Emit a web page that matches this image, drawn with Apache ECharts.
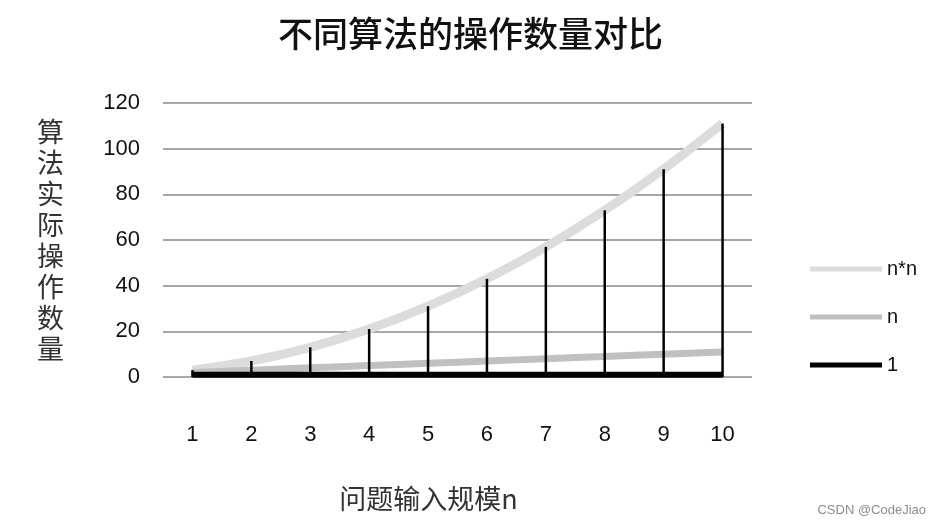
<!DOCTYPE html>
<html>
<head>
<meta charset="utf-8">
<script src="https://cdn.jsdelivr.net/npm/echarts@6/dist/echarts.min.js"></script>
<style>
  html, body { margin: 0; padding: 0; background: #fff; }
  #chart { width: 941px; height: 523px; }
</style>
</head>
<body>
<div id="chart"></div>
<script>
// problem size n on the x axis
const sizes = ['1', '2', '3', '4', '5', '6', '7', '8', '9', '10'];
// operations per algorithm (stacked in the picture, like excel does it)
const constOps = [1, 1, 1, 1, 1, 1, 1, 1, 1, 1];
const linearOps = [1, 2, 3, 4, 5, 6, 7, 8, 9, 10];
const squareOps = [1, 4, 9, 16, 25, 36, 49, 64, 81, 100];
const yTicks = [0, 20, 40, 60, 80, 100, 120];

// drop lines go from 0 up to the top of the stack
let dropTops = [];
for (let i = 0; i < sizes.length; i++) {
    dropTops.push(constOps[i] + linearOps[i] + squareOps[i]);
}

const FONT = 'Liberation Sans, Noto Sans CJK SC, sans-serif';

let chart = echarts.init(document.getElementById('chart'));
chart.setOption({
    animation: false,
    title: [
        {
            text: '不同算法的操作数量对比',
            left: 'center',
            top: 11,
            textStyle: { fontFamily: 'Noto Sans CJK SC', fontSize: 35, fontWeight: 500, color: '#111' }
        },
        {
            text: 'CSDN @CodeJiao',
            right: 10,
            top: 499,
            textStyle: { fontFamily: FONT, fontSize: 13, fontWeight: 'normal', color: '#8c8c8c' }
        }
    ],
    legend: {
        data: ['n*n', 'n', '1'],
        orient: 'vertical',
        left: 805,
        top: 254,
        icon: 'rect',
        itemWidth: 72,
        itemHeight: 5,
        itemGap: 28,
        textStyle: { fontFamily: FONT, fontSize: 20, color: '#111' }
    },
    grid: { left: 163, right: 189, top: 103, bottom: 146 },
    xAxis: {
        type: 'category',
        data: sizes,
        axisLine: { show: false },
        axisTick: { show: false },
        axisLabel: { margin: 47, fontFamily: FONT, fontSize: 22, color: '#111' },
        name: '问题输入规模n',
        nameLocation: 'middle',
        nameGap: 108,
        nameTextStyle: { fontFamily: 'Noto Sans CJK SC', fontSize: 27, color: '#333', padding: [0, 58, 0, 0] }
    },
    yAxis: {
        type: 'value',
        min: yTicks[0],
        max: yTicks[yTicks.length - 1],
        interval: yTicks[1] - yTicks[0],
        axisLine: { show: false },
        axisTick: { show: false },
        axisLabel: { margin: 23, fontFamily: FONT, fontSize: 22, color: '#111' },
        splitLine: { lineStyle: { color: '#8a8a8a', width: 1.5 } },
        name: '算法实际操作数量'.split('').join('\n'),
        nameLocation: 'middle',
        nameRotate: 0,
        nameGap: 99,
        nameTextStyle: { fontFamily: 'Noto Sans CJK SC', fontSize: 27, lineHeight: 31, color: '#333' }
    },
    series: [
        {
            name: '1',
            type: 'line',
            stack: 'ops',
            data: constOps,
            smooth: 0.3,
            showSymbol: false,
            itemStyle: { color: '#000' },
            lineStyle: { color: '#000', width: 6 },
            z: 4
        },
        {
            name: 'n',
            type: 'line',
            stack: 'ops',
            data: linearOps,
            smooth: 0.3,
            showSymbol: false,
            itemStyle: { color: '#c0c0c0' },
            lineStyle: { color: '#c0c0c0', width: 7 },
            z: 3
        },
        {
            name: 'n*n',
            type: 'line',
            stack: 'ops',
            data: squareOps,
            smooth: 0.3,
            showSymbol: false,
            itemStyle: { color: '#dcdcdc' },
            lineStyle: { color: '#dcdcdc', width: 9 },
            z: 2
        },
        {
            name: 'drop',
            type: 'bar',
            data: dropTops,
            barWidth: 2.5,
            itemStyle: { color: '#000' },
            z: 5
        }
    ]
});
</script>
</body>
</html>
